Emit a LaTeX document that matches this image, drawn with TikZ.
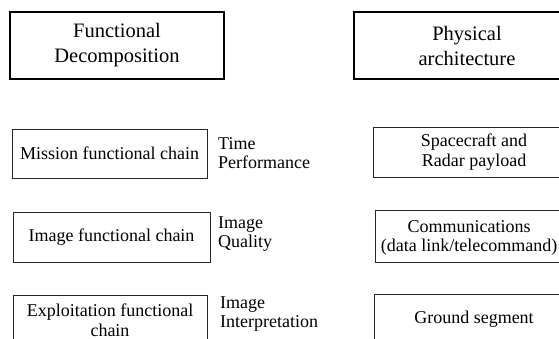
\documentclass[tikz,border=0pt]{standalone}
\usepackage{fontspec}
\setmainfont{Liberation Serif}
\begin{document}
\begin{tikzpicture}[x=1pt,y=-1pt,
  headbox/.style={draw=black, line width=1.5pt, inner sep=0pt, align=center,
    font=\fontsize{20.5}{25}\selectfont},
  chainbox/.style={draw=black!85, line width=0.8pt, inner sep=0pt, align=center,
    font=\fontsize{18}{19.5}\selectfont},
  sidelabel/.style={inner sep=0pt, anchor=west, align=left,
    font=\fontsize{18}{19}\selectfont}]
\useasboundingbox (0,0) rectangle (559,339);
\clip (0,0) rectangle (559,339);
% header boxes
\node[headbox, minimum width=214pt, minimum height=67pt] (fd) at (117,45.5) {Functional\\Decomposition};
\node[headbox, minimum width=226pt, minimum height=67pt] (pa) at (467,45.5) {Physical\\architecture};
% functional chains
\node[chainbox, minimum width=195pt, minimum height=49pt] (mfc) at (109.5,153.5) {Mission functional chain};
\node[chainbox, minimum width=197pt, minimum height=50pt] (ifc) at (111.5,237) {Image functional chain};
\node[chainbox, minimum width=194pt, minimum height=50pt] (efc) at (110,320) {Exploitation functional\\chain};
% side labels
\node[sidelabel] (tp) at (218,153) {Time\\Performance};
\node[sidelabel] (iq) at (218,234) {Image\\Quality};
\node[sidelabel] (ii) at (220,314) {Image\\Interpretation};
% physical elements
\node[chainbox, minimum width=202pt, minimum height=50pt] (sc) at (474,152) {Spacecraft and\\Radar payload};
\node[chainbox, minimum width=200pt, minimum height=52pt] (cm) at (475,236) {};
\node[chainbox, draw=none] (cmt) at (469,238) {Communications\\(data link/telecommand)};
\node[chainbox, minimum width=200pt, minimum height=50pt] (gs) at (474,319) {Ground segment};
\end{tikzpicture}
\end{document}
